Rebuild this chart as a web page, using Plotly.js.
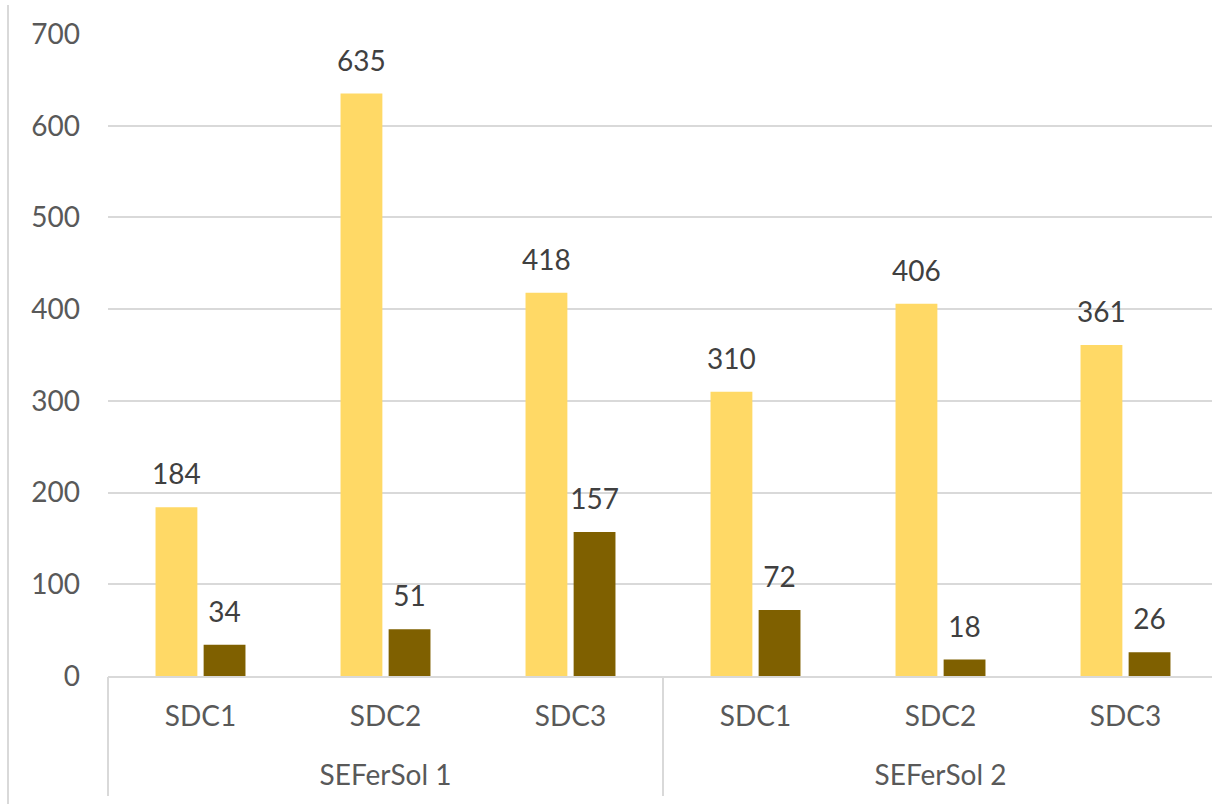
<!DOCTYPE html>
<html>
<head>
<meta charset="utf-8">
<script src="https://cdn.plot.ly/plotly-3.0.1.min.js"></script>
<style>
html, body { margin: 0; padding: 0; background: #fff; overflow: hidden; width: 1212px; height: 804px; }
#chart { position: absolute; left: 0; top: 0; }
#edge { position: absolute; left: 7px; top: 5px; width: 2px; height: 799px; background: #D9D9D9; }
</style>
</head>
<body>
<div id="chart"></div>
<div id="edge"></div>
<script>
const outerGroups = ["SEFerSol 1", "SEFerSol 1", "SEFerSol 1", "SEFerSol 2", "SEFerSol 2", "SEFerSol 2"];
const innerCats = ["SDC1", "SDC2", "SDC3", "SDC1", "SDC2", "SDC3"];
const series1 = [184, 635, 418, 310, 406, 361];
const series2 = [34, 51, 157, 72, 18, 26];
const yTicks = [0, 100, 200, 300, 400, 500, 600, 700];

// unique keys for each (group, category) pair; inner names shown as tick text
const keys = outerGroups.map((g, i) => g + " / " + innerCats[i]);
const groupNames = outerGroups.filter((g, i) => outerGroups.indexOf(g) === i);

const FONT = "Lato, 'Liberation Sans', sans-serif";
const labelTemplate = "<span style='font-size:28px'>%{y}</span><br> ";

const traces = [
  {
    type: "bar", name: "Series 1",
    x: keys, y: series1,
    marker: { color: "#FFD966" },
    texttemplate: labelTemplate, textposition: "outside", constraintext: "none",
    textfont: { family: FONT, size: 13, color: "#404040" },
    cliponaxis: false, hoverinfo: "y"
  },
  {
    type: "bar", name: "Series 2",
    x: keys, y: series2,
    marker: { color: "#7F6000" },
    texttemplate: labelTemplate, textposition: "outside", constraintext: "none",
    textfont: { family: FONT, size: 13, color: "#404040" },
    cliponaxis: false, hoverinfo: "y"
  },
  // carriers for the group-label axis and the group-divider axis (draw nothing)
  { type: "scatter", mode: "none", x: groupNames, y: groupNames.map(() => 0), xaxis: "x2", yaxis: "y", hoverinfo: "skip", showlegend: false },
  { type: "scatter", mode: "none", x: groupNames, y: groupNames.map(() => 0), xaxis: "x3", yaxis: "y", hoverinfo: "skip", showlegend: false }
];

const tickFont = { family: FONT, size: 28, color: "#595959" };

const layout = {
  width: 1218, height: 804,
  margin: { l: 108, r: 0, t: 34, b: 128, pad: 0 },
  paper_bgcolor: "#ffffff", plot_bgcolor: "#ffffff",
  showlegend: false,
  barmode: "group", bargap: 0.48, bargroupgap: 0.13,
  font: { family: FONT, size: 28, color: "#595959" },
  xaxis: {
    type: "category", categoryorder: "array", categoryarray: keys,
    tickmode: "array", tickvals: keys, ticktext: innerCats,
    showline: true, linecolor: "#D9D9D9", linewidth: 2,
    showgrid: false, zeroline: false, ticks: "",
    ticklabelstandoff: 14, tickfont: tickFont
  },
  xaxis2: {
    type: "category", categoryorder: "array", categoryarray: groupNames,
    range: [-0.5, groupNames.length - 0.5],
    overlaying: "x", anchor: "y", side: "bottom",
    showline: false, showgrid: false, zeroline: false, ticks: "",
    ticklabelstandoff: 80, tickfont: tickFont
  },
  xaxis3: {
    type: "category", categoryorder: "array", categoryarray: groupNames,
    range: [-0.5, groupNames.length - 0.5],
    overlaying: "x", anchor: "y", side: "bottom",
    showline: false, showgrid: false, zeroline: false,
    tickson: "boundaries", ticks: "outside", ticklen: 119,
    tickwidth: 2, tickcolor: "#D9D9D9", showticklabels: false
  },
  yaxis: {
    range: [0, 700], tickvals: yTicks, ticktext: yTicks.map(String),
    showline: false, zeroline: false,
    showgrid: true, gridcolor: "#D9D9D9", gridwidth: 2,
    ticks: "", ticklabelstandoff: 27, tickfont: tickFont
  }
};

Plotly.newPlot("chart", traces, layout, { displayModeBar: false, staticPlot: true });
</script>
</body>
</html>
